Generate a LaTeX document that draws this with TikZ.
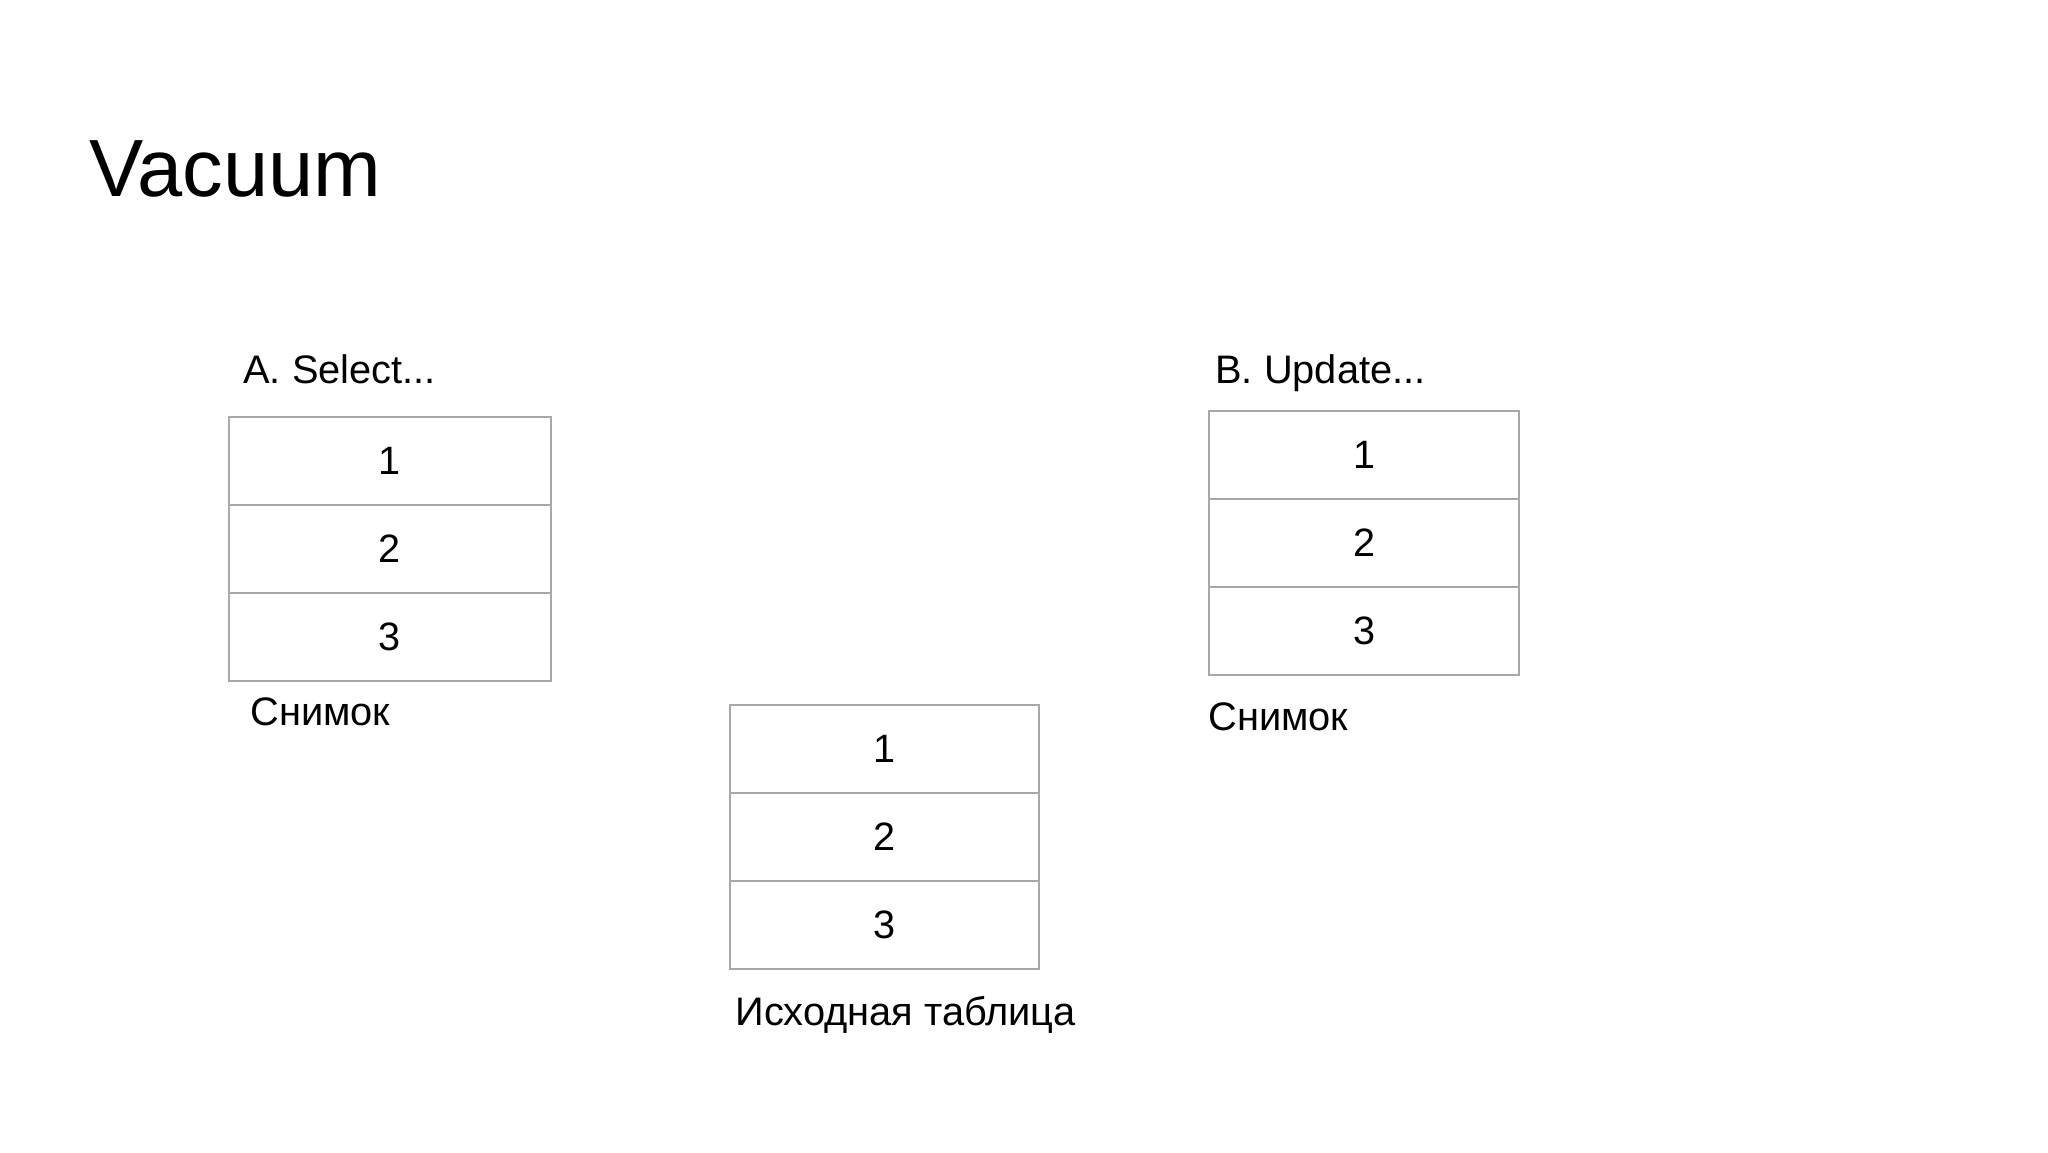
\documentclass[tikz,border=0pt]{standalone}
\usepackage{fontspec}
\setmainfont{Liberation Sans}
\usetikzlibrary{positioning}
\definecolor{cellgray}{HTML}{A8A8A8}

\begin{document}
\begin{tikzpicture}[x=0.5pt,y=-0.5pt,
	cell/.style={draw=cellgray, line width=1pt, outer sep=0pt, inner sep=0pt, minimum height=44pt, font=\fontsize{19.8}{23}\selectfont},
	lbl/.style={anchor=base west, inner sep=0pt, font=\fontsize{19.9}{23}\selectfont}]
	\useasboundingbox (0,0) rectangle (2048,1152);
	\node[lbl, font=\fontsize{40.6}{48}\selectfont] (title) at (89,196) {Vacuum};

	\node[lbl] (selA) at (243,383) {A. Select...};
	\node[cell, minimum width=161pt] (a1) at (390,461) {1};
	\node[cell, minimum width=161pt, below=0pt of a1] (a2) {2};
	\node[cell, minimum width=161pt, below=0pt of a2] (a3) {3};
	\node[lbl] (snapA) at (250,725) {Снимок};

	\node[cell, minimum width=154.5pt] (t1) at (884.5,749) {1};
	\node[cell, minimum width=154.5pt, below=0pt of t1] (t2) {2};
	\node[cell, minimum width=154.5pt, below=0pt of t2] (t3) {3};
	\node[lbl] (orig) at (735,1025) {Исходная таблица};

	\node[lbl] (updB) at (1215,383) {B. Update...};
	\node[cell, minimum width=155pt] (b1) at (1364,455) {1};
	\node[cell, minimum width=155pt, below=0pt of b1] (b2) {2};
	\node[cell, minimum width=155pt, below=0pt of b2] (b3) {3};
	\node[lbl] (snapB) at (1208,730) {Снимок};
\end{tikzpicture}
\end{document}
